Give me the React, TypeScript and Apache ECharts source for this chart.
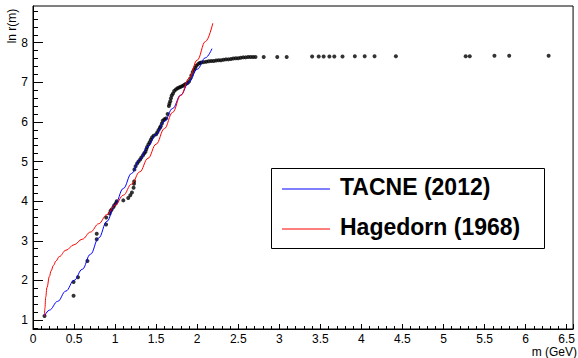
import React, { useEffect, useRef } from "react";
import * as echarts from "echarts";

// Data points: hadron mass m (GeV) and ln r(m)
const pointM = [
  0.14, 0.494, 0.494, 0.548, 0.663, 0.776, 0.776, 0.89, 0.892, 0.934, 0.945, 0.958, 0.98, 0.99, 1.01, 1.02,
  1.1, 1.16, 1.185, 1.205, 1.225, 1.23, 1.232, 1.235, 1.25, 1.268, 1.285, 1.305, 1.32, 1.34, 1.355, 1.37,
  1.38, 1.39, 1.405, 1.42, 1.435, 1.45, 1.47, 1.5, 1.515, 1.53, 1.545, 1.555, 1.57, 1.58, 1.6, 1.62,
  1.64, 1.655, 1.662, 1.672, 1.68, 1.69, 1.705, 1.72, 1.74, 1.76, 1.78, 1.8, 1.82, 1.84, 1.86, 1.88,
  1.9, 1.915, 1.93, 1.945, 1.96, 1.975, 1.99, 2.01, 2.03, 2.05, 2.08, 2.11, 2.14, 2.17, 2.2, 2.23,
  2.26, 2.29, 2.32, 2.35, 2.38, 2.41, 2.44, 2.47, 2.5, 2.53, 2.56, 2.59, 2.62, 2.65, 2.68, 2.71,
  2.81, 2.975, 3.09, 3.4, 3.48, 3.54, 3.61, 3.67, 3.77, 3.92, 4.04, 4.16, 4.42, 5.27, 5.32, 5.62,
  5.8, 6.28,
];
const pointLnR = [
  1.1, 1.61, 1.96, 2.08, 2.49, 3.04, 3.18, 3.41, 3.59, 3.69, 3.75, 3.79, 3.85, 3.9, 3.95, 4.0,
  4.02, 4.08, 4.15, 4.22, 4.34, 4.44, 4.5, 4.8, 4.88, 4.95, 5.0, 5.05, 5.1, 5.16, 5.21, 5.25,
  5.31, 5.37, 5.43, 5.49, 5.55, 5.61, 5.65, 5.69, 5.74, 5.8, 5.85, 5.89, 5.96, 6.03, 6.07, 6.09,
  6.2, 6.4, 6.46, 6.52, 6.6, 6.67, 6.72, 6.78, 6.82, 6.85, 6.87, 6.89, 6.91, 6.93, 6.96, 6.98,
  7.02, 7.1, 7.18, 7.26, 7.32, 7.37, 7.42, 7.46, 7.49, 7.5, 7.51, 7.52, 7.53, 7.54, 7.54, 7.55,
  7.56, 7.56, 7.57, 7.58, 7.58, 7.59, 7.6, 7.61, 7.61, 7.62, 7.63, 7.63, 7.64, 7.64, 7.64, 7.64,
  7.64, 7.64, 7.64, 7.65, 7.65, 7.65, 7.65, 7.65, 7.65, 7.66, 7.66, 7.66, 7.66, 7.66, 7.66, 7.67,
  7.67, 7.67,
];

// TACNE (2012) curve
const tacneM = [0.14, 0.2, 0.3, 0.4, 0.5, 0.6, 0.7, 0.8, 0.9, 1.0, 1.1, 1.2, 1.3, 1.4, 1.5, 1.6, 1.7, 1.8, 1.9, 2.0, 2.1, 2.18];
const tacneLnR = [1.1, 1.25, 1.47, 1.73, 2.0, 2.28, 2.66, 3.07, 3.49, 3.92, 4.32, 4.7, 5.05, 5.38, 5.69, 6.01, 6.34, 6.68, 7.01, 7.33, 7.62, 7.85];

// Hagedorn (1968) curve
const hagM = [0.14, 0.145, 0.155, 0.17, 0.2, 0.22, 0.25, 0.28, 0.32, 0.4, 0.5, 0.6, 0.7, 0.8, 0.9, 1.0, 1.1, 1.2, 1.3, 1.4, 1.5, 1.6, 1.7, 1.8, 1.9, 2.0, 2.1, 2.19];
const hagLnR = [1.1, 1.3, 1.58, 1.82, 2.1, 2.24, 2.38, 2.49, 2.6, 2.76, 2.9, 3.04, 3.22, 3.43, 3.66, 3.9, 4.15, 4.43, 4.74, 5.08, 5.44, 5.83, 6.24, 6.67, 7.1, 7.56, 8.03, 8.49];

const yMajorTicks = [1, 2, 3, 4, 5, 6, 7, 8];
const yMinorTicks = [0.8, 1.2, 1.4, 1.6, 1.8, 2.2, 2.4, 2.6, 2.8, 3.2, 3.4, 3.6, 3.8, 4.2, 4.4, 4.6, 4.8, 5.2, 5.4, 5.6, 5.8, 6.2, 6.4, 6.6, 6.8, 7.2, 7.4, 7.6, 7.8, 8.2, 8.4, 8.6, 8.8];

const legendNames = ["TACNE (2012)", "Hagedorn (1968)"];

const FONT = "'Liberation Sans', Arial, Helvetica, sans-serif";

export default function App() {
  const ref = useRef<HTMLDivElement>(null);
  useEffect(() => {
    document.body.style.margin = "0";
    if (!ref.current) return;
    const chart = echarts.init(ref.current, undefined, { renderer: "svg" });
    const zip = (a: number[], b: number[]) => a.map((v, i) => [v, b[i]]);
    const yMin = 0.773;
    const yMax = 8.927;
    chart.setOption({
      animation: false,
      backgroundColor: "#fff",
      textStyle: { fontFamily: FONT },
      grid: {
        left: 33,
        right: 1,
        top: 6,
        bottom: 29,
        show: true,
        borderColor: "#000",
        borderWidth: 1,
      },
      xAxis: {
        type: "value",
        min: 0,
        max: 6.578,
        interval: 0.5,
        axisLine: { show: true, onZero: false, lineStyle: { color: "#000", width: 1 } },
        axisTick: { show: true, inside: true, length: 5, lineStyle: { color: "#000" } },
        minorTick: { show: true, splitNumber: 5, length: 3, lineStyle: { color: "#000" } },
        axisLabel: { color: "#000", fontSize: 12, lineHeight: 12, margin: 4, fontFamily: FONT, showMaxLabel: false },
        splitLine: { show: false },
      },
      yAxis: [
        {
          type: "value",
          min: yMin,
          max: yMax,
          axisLine: { show: true, onZero: false, lineStyle: { color: "#000", width: 1 } },
          axisTick: { show: true, inside: true, length: 10, customValues: yMajorTicks, lineStyle: { color: "#000" } },
          axisLabel: { color: "#000", fontSize: 12, margin: 5, fontFamily: FONT, customValues: yMajorTicks },
          splitLine: { show: false },
        },
        {
          type: "value",
          min: yMin,
          max: yMax,
          position: "left",
          axisLine: { show: false },
          axisTick: { show: true, inside: true, length: 5, customValues: yMinorTicks, lineStyle: { color: "#000" } },
          axisLabel: { show: false },
          splitLine: { show: false },
        },
      ],
      series: [
        {
          type: "scatter",
          name: "data",
          data: zip(pointM, pointLnR),
          symbol: "circle",
          symbolSize: 4,
          itemStyle: { color: "#000" },
          z: 2,
        },
        {
          type: "line",
          name: legendNames[0],
          data: zip(tacneM, tacneLnR),
          showSymbol: false,
          smooth: 0.4,
          smoothMonotone: "x",
          lineStyle: { color: "#0000ff", width: 1 },
          z: 3,
        },
        {
          type: "line",
          name: legendNames[1],
          data: zip(hagM, hagLnR),
          showSymbol: false,
          smooth: 0.4,
          smoothMonotone: "x",
          lineStyle: { color: "#ff0000", width: 1 },
          z: 3,
        },
      ],
      graphic: [
        {
          type: "text",
          x: 12,
          y: 26,
          rotation: Math.PI / 2,
          style: { text: "ln r(m)", font: `12px ${FONT}`, fill: "#000", textAlign: "center", textVerticalAlign: "middle" },
        },
        {
          type: "text",
          x: 577,
          y: 351.5,
          style: { text: "m (GeV)", font: `12px ${FONT}`, lineHeight: 12, fill: "#000", textAlign: "right", textVerticalAlign: "middle" },
        },
        {
          type: "group",
          z: 100,
          children: [
            {
              type: "rect",
              shape: { x: 271.5, y: 168.5, width: 273, height: 80 },
              style: { fill: "#fff", stroke: "#000", lineWidth: 1 },
            },
            {
              type: "line",
              shape: { x1: 282, y1: 189, x2: 330, y2: 189 },
              style: { stroke: "#0000ff", lineWidth: 1 },
            },
            {
              type: "line",
              shape: { x1: 282, y1: 229, x2: 330, y2: 229 },
              style: { stroke: "#ff0000", lineWidth: 1 },
            },
            {
              type: "text",
              x: 340,
              y: 187,
              style: { text: legendNames[0], font: `bold 23px ${FONT}`, fill: "#000", textVerticalAlign: "middle" },
            },
            {
              type: "text",
              x: 340,
              y: 227,
              style: { text: legendNames[1], font: `bold 23px ${FONT}`, fill: "#000", textVerticalAlign: "middle" },
            },
          ],
        },
      ],
    });
    return () => chart.dispose();
  }, []);
  return <div ref={ref} style={{ width: 578, height: 358 }} />;
}
